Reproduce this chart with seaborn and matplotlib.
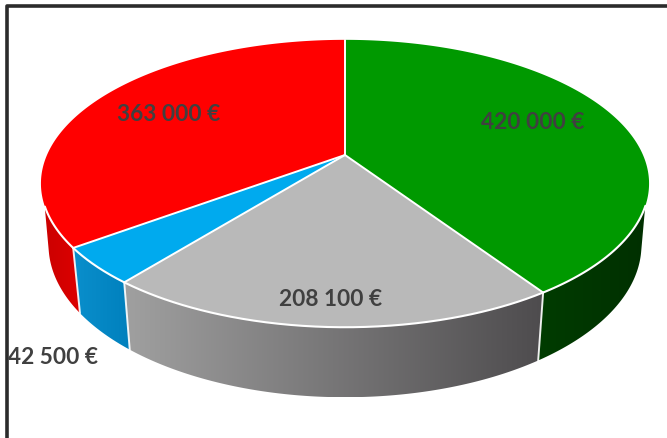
import numpy as np
import matplotlib
matplotlib.use("Agg")
import matplotlib.pyplot as plt
import seaborn as sns
from matplotlib.colors import LinearSegmentedColormap
from matplotlib.patches import Polygon

# Data
labels = ["420 000 €", "208 100 €", "42 500 €", "363 000 €"]
values = [420000, 208100, 42500, 363000]
top_colors = ["#009900", "#b9b9b9", "#00aaee", "#ff0000"]
side_left = ["#003c00", "#a0a0a0", "#0a8fcc", "#cc0000"]
side_right = ["#003000", "#4e4c4e", "#0080bd", "#dd0000"]
label_xy = [(533, 122), (331, 299), (53, 357), (169, 114)]

sns.set_theme(style="white")
plt.rcParams["font.family"] = ["Lato", "DejaVu Sans"]

W, H = 667, 439
fig = plt.figure(figsize=(W / 100, H / 100), dpi=100)
ax = fig.add_axes([0, 0, 1, 1])
ax.axis("off")

CX, CY = 345.0, 156.0
K, C, A = 298.0, 0.1986, -107.05


def top(t):
    u, v = np.sin(t), np.cos(t)
    d = 1 + C * v
    return CX + K * u / d, (A * v + CY) / d


def bottom(t):
    x, y = top(t)
    return CX + 0.975 * (x - CX), 398 + 1.06 * (y - 328)


fracs = np.array(values, float) / sum(values)
edges = np.concatenate([[0], np.cumsum(fracs)]) * 2 * np.pi
RIGHT, LEFT = np.pi / 2, 3 * np.pi / 2

# frame
ax.plot([6.5, 6.5, W], [H, 6.5, 6.5], color="#2b2b2b", lw=2.6, solid_capstyle="butt", zorder=0)

# sides
for i in range(len(values)):
    a, b = edges[i], edges[i + 1]
    cmap = LinearSegmentedColormap.from_list("s", [side_left[i], side_right[i]])
    ts = np.linspace(max(a, RIGHT + 0.2), min(b, LEFT - 0.2), 200)
    tt = ts[(ts >= RIGHT + 0.35) & (ts <= LEFT - 0.35)]
    tb = ts[(ts >= RIGHT + 0.25) & (ts <= LEFT - 0.25)]
    xt, yt = top(tt)
    xb, yb = bottom(tb)
    poly = Polygon(np.column_stack([np.r_[xt, xb[::-1]], np.r_[yt, yb[::-1]]]),
                   closed=True, fc="none", ec="none", transform=ax.transData)
    ax.add_patch(poly)
    x0, x1 = min(xt.min(), xb.min()), max(xt.max(), xb.max())
    y0, y1 = min(yt.min(), yb.min()), max(yt.max(), yb.max())
    im = ax.imshow(np.linspace(0, 1, 256)[None, :], cmap=cmap, aspect="auto",
                   extent=(x0, x1, y1, y0), zorder=1)
    im.set_clip_path(poly)
    # seam lines
    if i in (0, 1, 2):
        xe, ye = top(np.array([b]))
        xf, yf = bottom(np.array([b]))
        ax.plot([xe[0], xf[0]], [ye[0], yf[0]], color="white", lw=1.4, zorder=2,
                alpha=0.9)

ax.set_xlim(0, W)
ax.set_ylim(H, 0)

# top face
for i in range(len(values)):
    ts = np.linspace(edges[i], edges[i + 1], 300)
    x, y = top(ts)
    ax.add_patch(Polygon(np.column_stack([np.r_[CX, x], np.r_[CY, y]]), closed=True,
                         fc=top_colors[i], ec="none", zorder=3))
    # radial separators and lower rim highlight
    ax.plot([CX, x[0]], [CY, y[0]], color="white", lw=1.4, zorder=4)
    front = (ts > RIGHT + 0.35) & (ts < LEFT - 0.35)
    if front.any():
        ax.plot(x[front], y[front], color="white", lw=1.5, zorder=4)

# labels
for txt, (lx, ly) in zip(labels, label_xy):
    ax.text(lx, ly + 1, txt, ha="center", va="center", fontsize=16.3, fontweight="bold",
            color="#404040", zorder=5)

fig.savefig("out.png", dpi=100, facecolor="white")
